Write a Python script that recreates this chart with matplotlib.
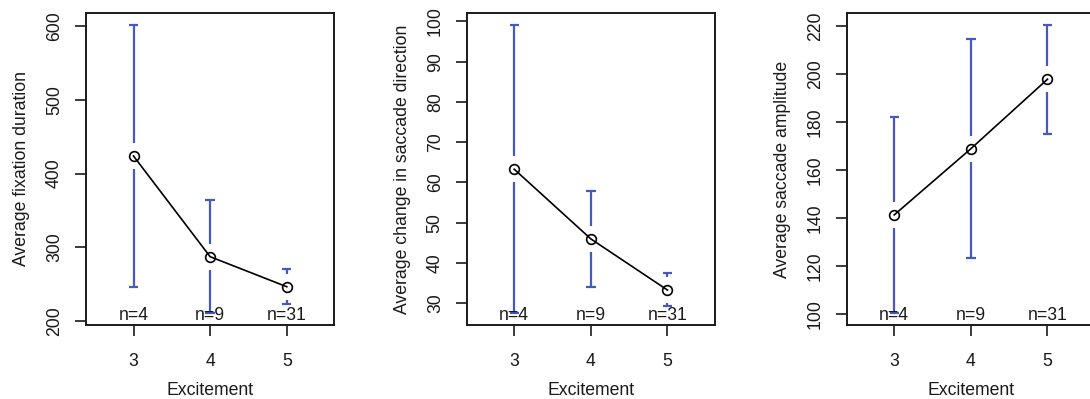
import matplotlib
matplotlib.use("Agg")
import matplotlib.pyplot as plt
import matplotlib.transforms as mtransforms
import numpy as np

plt.rcParams['font.family'] = ['Liberation Sans', 'DejaVu Sans']

levels = [3, 4, 5]
n_labels = ["n=4", "n=9", "n=31"]

fix_mean = [423.7, 287.2, 246.5]
fix_lo = [246.4, 210.3, 223.7]
fix_hi = [601.9, 364.5, 270.0]

dir_mean = [63.3, 46.0, 33.3]
dir_lo = [27.5, 34.1, 29.3]
dir_hi = [99.2, 57.9, 37.6]

amp_mean = [141.4, 169.0, 198.0]
amp_lo = [100.3, 123.4, 175.1]
amp_hi = [182.3, 214.6, 220.8]

ylabels = ["Average fixation duration",
           "Average change in saccade direction",
           "Average saccade amplitude"]
yticks = [[200, 300, 400, 500, 600],
          [30, 40, 50, 60, 70, 80, 90, 100],
          [100, 120, 140, 160, 180, 200, 220]]
xlabel = "Excitement"

W, H = 1090, 399
fig = plt.figure(figsize=(W / 100, H / 100), dpi=100)

lefts = [86, 466.7, 846.7]
ax_w = 248.3
ax_bot = 325
ax_top = 13

BLUE = "#4759BF"
TXT = "#1a1a1a"
FS = 12.7

datasets = [(fix_mean, fix_lo, fix_hi), (dir_mean, dir_lo, dir_hi), (amp_mean, amp_lo, amp_hi)]

for i, (means, lo, hi) in enumerate(datasets):
    ax = fig.add_axes([lefts[i] / W, 1 - ax_bot / H, ax_w / W, (ax_bot - ax_top) / H])
    x = np.arange(len(levels))
    # R style limits: 4% expansion
    xmin, xmax = -0.5, len(levels) - 0.5
    xs = xmax - xmin
    ax.set_xlim(xmin - 0.04 * xs, xmax + 0.04 * xs)
    ymin, ymax = min(lo), max(hi)
    ys = ymax - ymin
    ax.set_ylim(ymin - 0.04 * ys, ymax + 0.04 * ys)

    fig.canvas.draw()
    inv = ax.transData.inverted()
    p0 = inv.transform((0, 0))
    p1 = inv.transform((1, 1))
    dx_px = p1[0] - p0[0]
    dy_px = p1[1] - p0[1]
    gap = 13 * dy_px
    cap = 4.7 * dx_px

    for xi, m, l, h in zip(x, means, lo, hi):
        if h > m + gap:
            ax.vlines(xi, m + gap, h, color=BLUE, lw=1.6, zorder=2)
        if l < m - gap:
            ax.vlines(xi, l, m - gap, color=BLUE, lw=1.6, zorder=2)
        ax.hlines([l, h], xi - cap, xi + cap, color=BLUE, lw=1.6, zorder=2)

    ax.plot(x, means, color="black", lw=1.2, marker="o", markersize=7,
            markerfacecolor="none", markeredgecolor="black", markeredgewidth=1.2, zorder=3)

    trans = mtransforms.blended_transform_factory(ax.transData, ax.transAxes)
    for xi, lab in zip(x, n_labels):
        ax.text(xi, 0.032, lab, transform=trans, ha="center", va="center",
                fontsize=FS, color=TXT, zorder=4)

    ax.set_xticks(x)
    ax.set_xticklabels([str(v) for v in levels], fontsize=FS, color=TXT)
    ax.set_yticks(yticks[i])
    ax.set_yticklabels([str(v) for v in yticks[i]], fontsize=FS, rotation=90,
                       va="center", color=TXT)
    ax.tick_params(axis="both", length=8, width=1.2, color=TXT)
    ax.tick_params(axis="x", pad=12)
    ax.tick_params(axis="y", pad=8.5)
    for sp in ax.spines.values():
        sp.set_linewidth(1.4)
        sp.set_color(TXT)
    ax.set_xlabel(xlabel, fontsize=FS, color=TXT, labelpad=8.5)
    ax.set_ylabel(ylabels[i], fontsize=FS, color=TXT, labelpad=11.5)

fig.savefig("out.png", dpi=100)
